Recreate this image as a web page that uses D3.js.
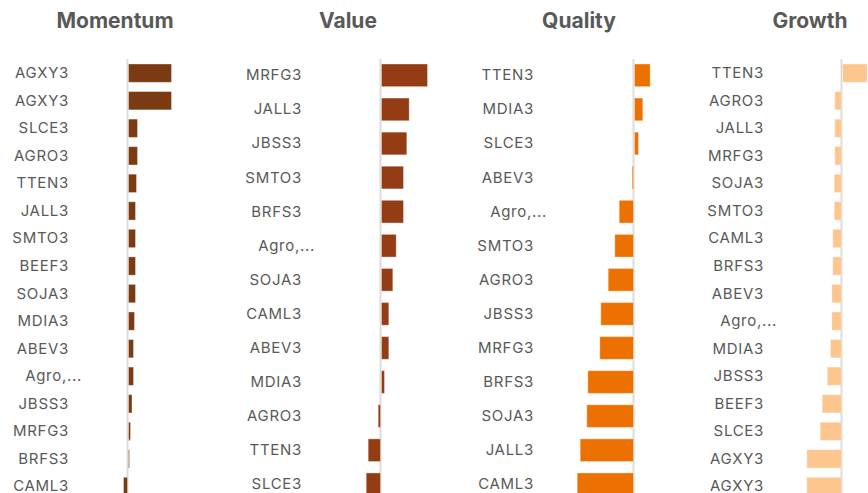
<!DOCTYPE html>
<html>
<head>
<meta charset="utf-8">
<script src="https://cdnjs.cloudflare.com/ajax/libs/d3/7.8.5/d3.min.js"></script>
<style>
  html, body { margin: 0; padding: 0; background: #fff; }
  svg { display: block; }
</style>
</head>
<body>
<svg id="chart" width="868" height="493"></svg>
<script>
// ---- Data ----
const titles = ["Momentum", "Value", "Quality", "Growth"];

const momentumCats = ["AGXY3","AGXY3","SLCE3","AGRO3","TTEN3","JALL3","SMTO3","BEEF3","SOJA3","MDIA3","ABEV3","Agro,...","JBSS3","MRFG3","BRFS3","CAML3"];
const momentumVals = [43, 43, 9, 9, 8, 7, 7, 7, 7, 6, 5, 5, 3.5, 2, 1, -4];

const valueCats = ["MRFG3","JALL3","JBSS3","SMTO3","BRFS3","Agro,...","SOJA3","CAML3","ABEV3","MDIA3","AGRO3","TTEN3","SLCE3"];
const valueVals = [46, 27.7, 25.3, 22, 22, 14.7, 11.3, 7.3, 7.3, 3, -2.3, -12.3, -14.3];

const qualityCats = ["TTEN3","MDIA3","SLCE3","ABEV3","Agro,...","SMTO3","AGRO3","JBSS3","MRFG3","BRFS3","SOJA3","JALL3","CAML3"];
const qualityVals = [15.7, 8.3, 4, -1.3, -14.3, -18.7, -25.3, -32.7, -33.7, -45.7, -46.7, -53.3, -56.3];

const growthCats = ["TTEN3","AGRO3","JALL3","MRFG3","SOJA3","SMTO3","CAML3","BRFS3","ABEV3","Agro,...","MDIA3","JBSS3","BEEF3","SLCE3","AGXY3","AGXY3"];
const growthVals = [24.7, -6.7, -6.7, -6.7, -7.3, -7.3, -8.7, -8.7, -9.7, -9.7, -11, -14.3, -19.3, -21.3, -34.7, -34.7];

// ---- Layout / style ----
const panels = [
  { title: titles[0], cats: momentumCats, vals: momentumVals, color: "#7b3a12", zeroX: 127.5, labelX: 69,  titleX: 115 },
  { title: titles[1], cats: valueCats,    vals: valueVals,    color: "#943c14", zeroX: 380.5, labelX: 302, titleX: 348 },
  { title: titles[2], cats: qualityCats,  vals: qualityVals,  color: "#ec7100", zeroX: 633.5, labelX: 534, titleX: 579 },
  { title: titles[3], cats: growthCats,   vals: growthVals,   color: "#fdc68f", zeroX: 841.5, labelX: 764, titleX: 810 }
];

const svg = d3.select("#chart");
const font = "Inter, 'Segoe UI', 'Open Sans', sans-serif";

panels.forEach(p => {
  const g = svg.append("g");
  const idx = d3.range(p.cats.length);
  const y = d3.scaleBand().domain(idx).range([64, 495.6]).paddingInner(0.335).paddingOuter(0);
  const x = d3.scaleLinear().domain([-60, 50]).range([p.zeroX - 60, p.zeroX + 50]);

  g.append("text")
    .attr("x", p.titleX).attr("y", 28)
    .attr("text-anchor", "middle")
    .attr("font-family", font).attr("font-weight", 700)
    .attr("font-size", 21).attr("fill", "#595959")
    .text(p.title);

  // zero line
  g.append("line")
    .attr("x1", x(0)).attr("x2", x(0))
    .attr("y1", 59).attr("y2", 500)
    .attr("stroke", "#dcdcdc").attr("stroke-width", 2);

  // bars
  g.selectAll("rect").data(idx).join("rect")
    .attr("x", i => Math.min(x(0), x(p.vals[i])) + (p.vals[i] >= 0 ? 1 : 0))
    .attr("y", i => y(i))
    .attr("width", i => Math.abs(x(p.vals[i]) - x(0)))
    .attr("height", y.bandwidth())
    .attr("fill", p.color)
    .attr("stroke", "#ffffff").attr("stroke-opacity", 0.35).attr("stroke-width", 1);

  // labels
  g.selectAll("text.lbl").data(idx).join("text")
    .attr("class", "lbl")
    .attr("x", i => p.labelX + (p.cats[i].endsWith("...") ? 13 : 0))
    .attr("y", i => y(i) + y.bandwidth() / 2)
    .attr("dy", "0.33em")
    .attr("text-anchor", "end")
    .attr("font-family", font).attr("font-size", 15)
    .attr("letter-spacing", "0.7px")
    .attr("fill", "#595959")
    .text(i => p.cats[i]);
});
</script>
</body>
</html>
